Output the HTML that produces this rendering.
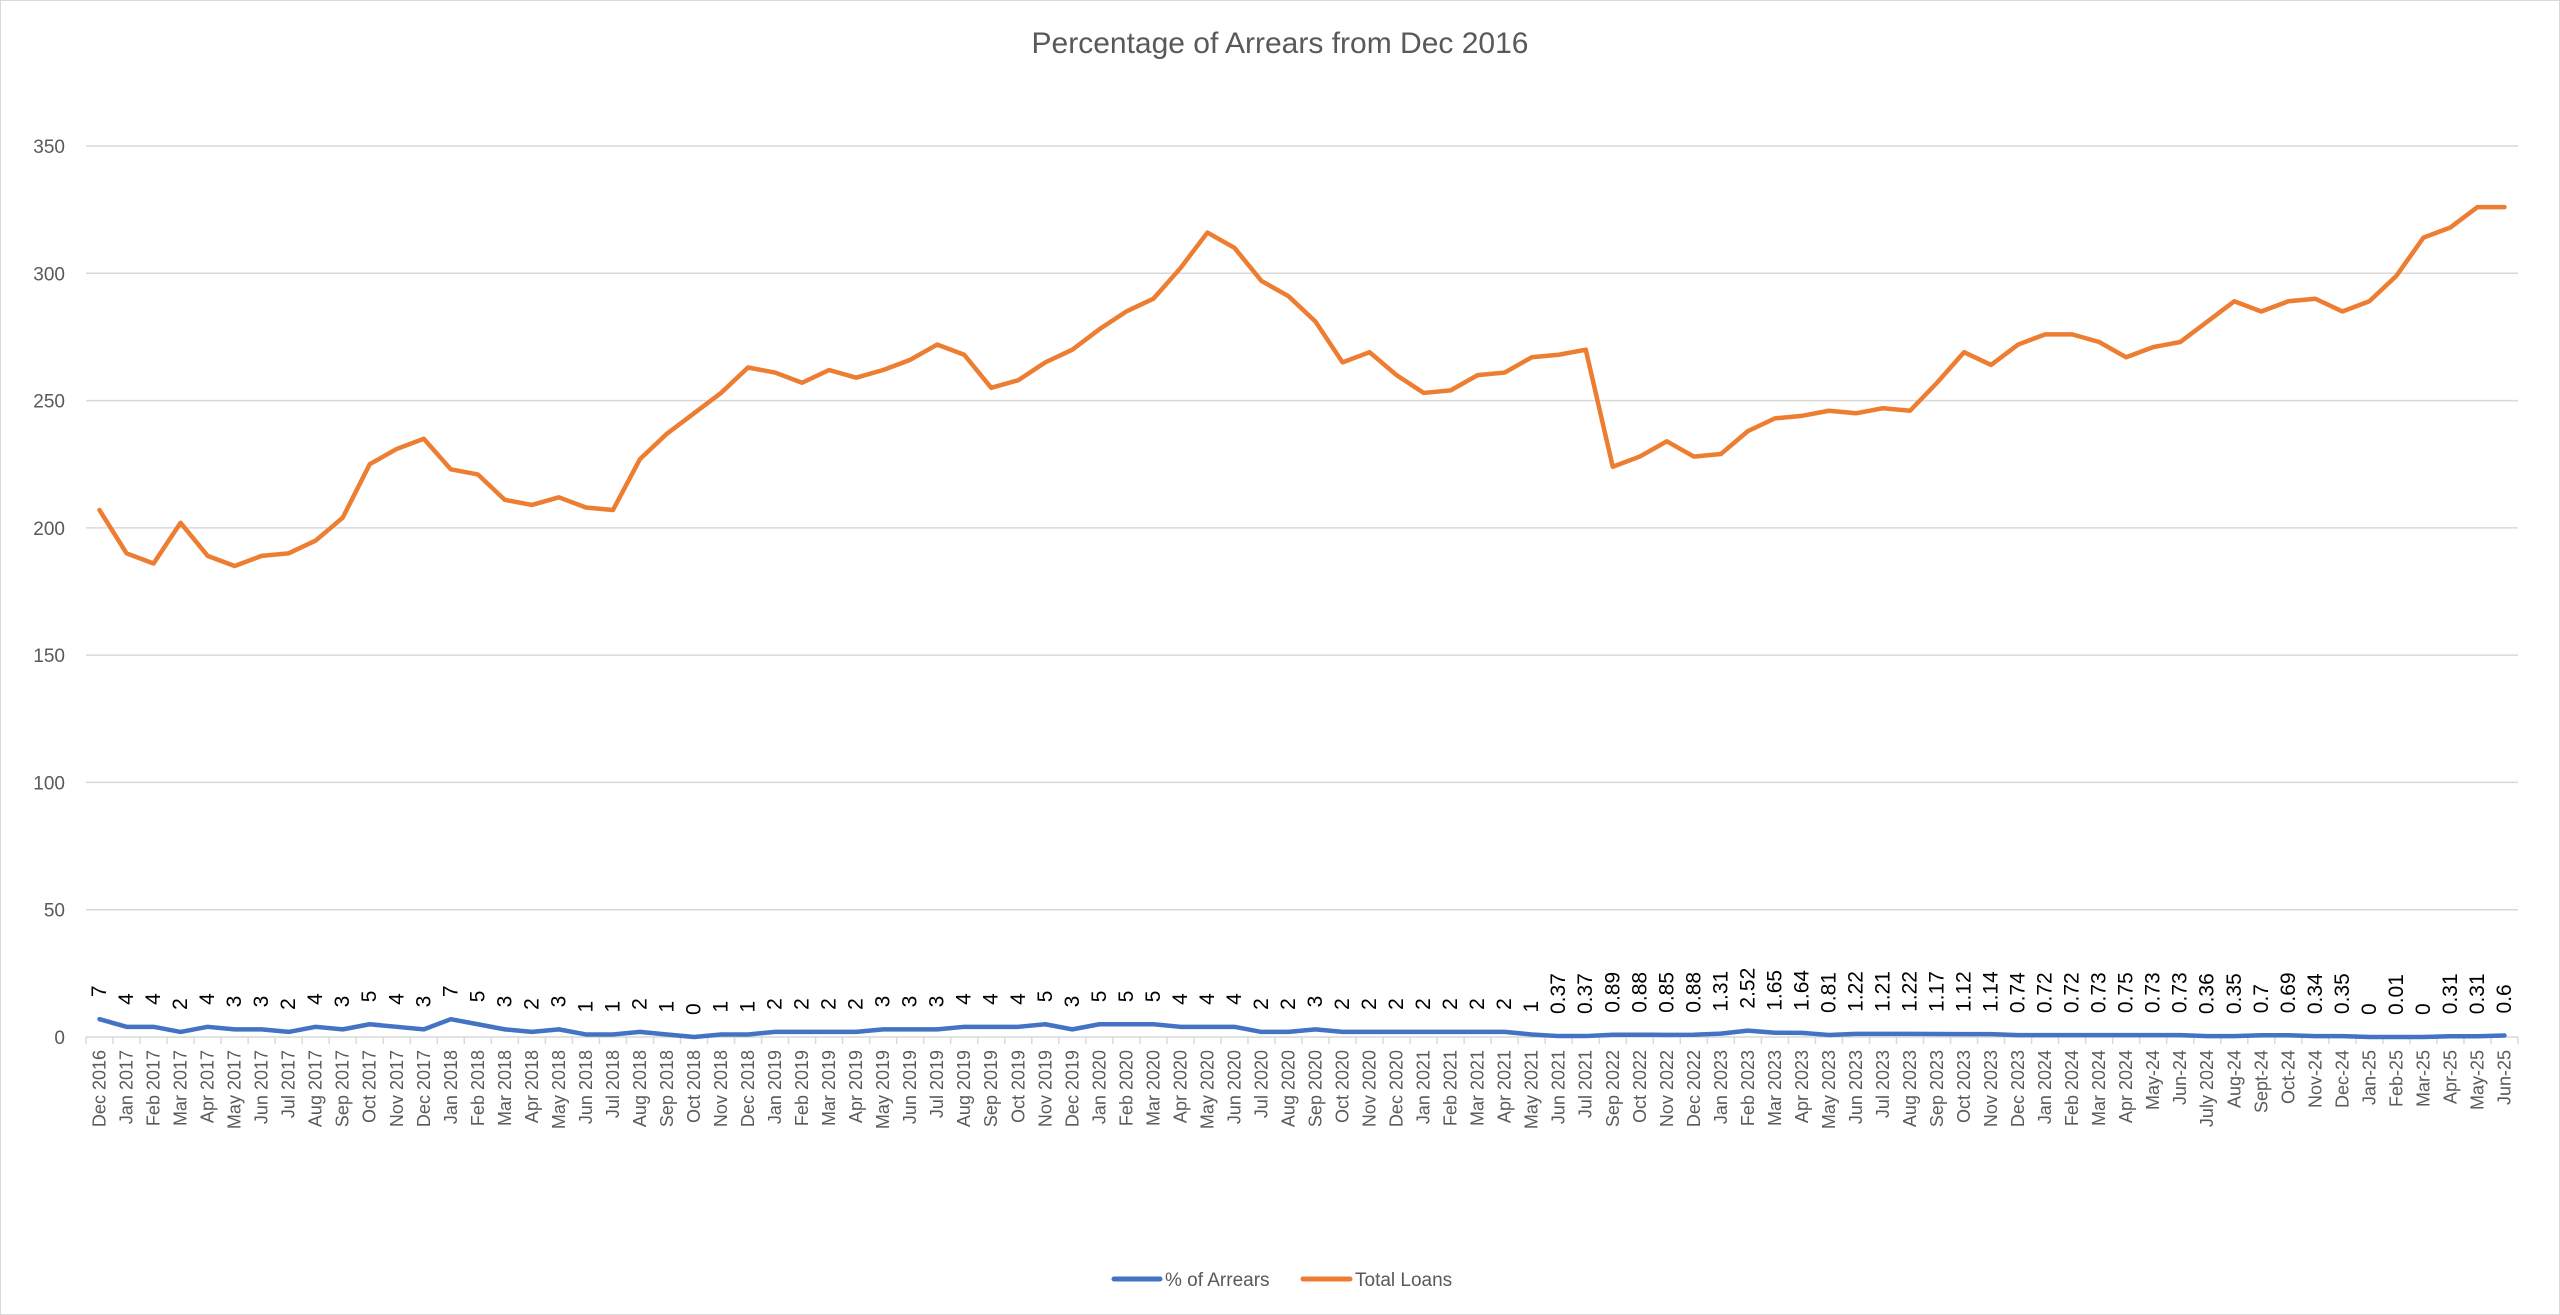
<!DOCTYPE html>
<html><head><meta charset="utf-8">
<style>
html,body{margin:0;padding:0;background:#fff;}
body{width:2560px;height:1315px;overflow:hidden;}
svg{display:block;font-family:"Liberation Sans",sans-serif;}
</style></head>
<body>
<svg id="chart" width="2560" height="1315" viewBox="0 0 2560 1315" xmlns="http://www.w3.org/2000/svg">
<rect x="0.5" y="0.5" width="2559" height="1314" fill="#fff" stroke="#d9d9d9" stroke-width="1"/>
<text x="1280" y="53" text-anchor="middle" font-size="30" fill="#595959">Percentage of Arrears from Dec 2016</text>
<g id="grid"></g>
<g id="yticks"></g>
<g id="xaxis"></g>
<g id="series"></g>
<g id="dlabels"></g>
<g>
<g>
<line x1="1114" y1="1279" x2="1160" y2="1279" stroke="#4472C4" stroke-width="5" stroke-linecap="round"/>
<text x="1165" y="1286" font-size="19" fill="#595959">% of Arrears</text>
</g>
<g>
<line x1="1303" y1="1279" x2="1350" y2="1279" stroke="#ED7D31" stroke-width="5" stroke-linecap="round"/>
<text x="1355" y="1286" font-size="19" fill="#595959">Total Loans</text>
</g>
</g>
</svg>
<script>
const categories = ["Dec 2016","Jan 2017","Feb 2017","Mar 2017","Apr 2017","May 2017","Jun 2017","Jul 2017","Aug 2017","Sep 2017","Oct 2017","Nov 2017","Dec 2017",
"Jan 2018","Feb 2018","Mar 2018","Apr 2018","May 2018","Jun 2018","Jul 2018","Aug 2018","Sep 2018","Oct 2018","Nov 2018","Dec 2018",
"Jan 2019","Feb 2019","Mar 2019","Apr 2019","May 2019","Jun 2019","Jul 2019","Aug 2019","Sep 2019","Oct 2019","Nov 2019","Dec 2019",
"Jan 2020","Feb 2020","Mar 2020","Apr 2020","May 2020","Jun 2020","Jul 2020","Aug 2020","Sep 2020","Oct 2020","Nov 2020","Dec 2020",
"Jan 2021","Feb 2021","Mar 2021","Apr 2021","May 2021","Jun 2021","Jul 2021",
"Sep 2022","Oct 2022","Nov 2022","Dec 2022",
"Jan 2023","Feb 2023","Mar 2023","Apr 2023","May 2023","Jun 2023","Jul 2023","Aug 2023","Sep 2023","Oct 2023","Nov 2023","Dec 2023",
"Jan 2024","Feb 2024","Mar 2024","Apr 2024","May-24","Jun-24","July 2024","Aug-24","Sept-24","Oct-24","Nov-24","Dec-24",
"Jan-25","Feb-25","Mar-25","Apr-25","May-25","Jun-25"];
const arrearsValues = [7,4,4,2,4,3,3,2,4,3,5,4,3,
7,5,3,2,3,1,1,2,1,0,1,1,
2,2,2,2,3,3,3,4,4,4,5,3,
5,5,5,4,4,4,2,2,3,2,2,2,
2,2,2,2,1,0.37,0.37,
0.89,0.88,0.85,0.88,
1.31,2.52,1.65,1.64,0.81,1.22,1.21,1.22,1.17,1.12,1.14,0.74,
0.72,0.72,0.73,0.75,0.73,0.73,0.36,0.35,0.7,0.69,0.34,0.35,
0,0.01,0,0.31,0.31,0.6];
const totalLoansValues = [207,190,186,202,189,185,189,190,195,204,225,231,235,
223,221,211,209,212,208,207,227,237,245,253,263,
261,257,262,259,262,266,272,268,255,258,265,270,
278,285,290,302,316,310,297,291,281,265,269,260,
253,254,260,261,267,268,270,
224,228,234,228,
229,238,243,244,246,245,247,246,257,269,264,272,
276,276,273,267,271,273,281,289,285,289,290,285,
289,299,314,318,326,326];
const yTicks = [0,50,100,150,200,250,300,350];

const NS = "http://www.w3.org/2000/svg";
const L = 86, R = 2518, Y0 = 1037, YMAX_PX = 146, YMAX = 350;
const step = (R - L) / categories.length;
function xScale(i){ return L + step * (i + 0.5); }
function yScale(v){ return Y0 - (v / YMAX) * (Y0 - YMAX_PX); }
function mk(tag, attrs, parent){
  const e = document.createElementNS(NS, tag);
  for (const k in attrs) e.setAttribute(k, attrs[k]);
  parent.appendChild(e);
  return e;
}
const grid = document.getElementById('grid');
const yt = document.getElementById('yticks');
yTicks.forEach(v => {
  const ln = mk('line', {x1:L, x2:R, y1:yScale(v), y2:yScale(v), stroke:'#d9d9d9', 'stroke-width':1.5}, grid);
  
  
  const t = mk('text', {x:65, y:yScale(v) + 7, 'text-anchor':'end', 'font-size':19, fill:'#595959'}, yt);
  t.textContent = v;
  
  
});
const xa = document.getElementById('xaxis');
for (let i = 0; i <= categories.length; i++){
  const x = L + step * i;
  const tk = mk('line', {x1:x, x2:x, y1:Y0, y2:Y0 + 7, stroke:'#d9d9d9', 'stroke-width':1.5}, xa);
  
  
}
categories.forEach((c, i) => {
  const x = xScale(i);
  const t = mk('text', {transform:'translate(' + x + ',' + (Y0 + 13) + ') rotate(-90)', 'text-anchor':'end', 'dominant-baseline':'central', 'font-size':18, fill:'#595959'}, xa);
  t.textContent = c;
  
  
});
const ser = document.getElementById('series');
function pathFor(vals){ return vals.map((v, i) => (i ? 'L' : 'M') + xScale(i).toFixed(2) + ' ' + yScale(v).toFixed(2)).join(' '); }
const po = mk('path', {d:pathFor(totalLoansValues), fill:'none', stroke:'#ED7D31', 'stroke-width':4.5, 'stroke-linejoin':'round', 'stroke-linecap':'round'}, ser);


const pb = mk('path', {d:pathFor(arrearsValues), fill:'none', stroke:'#4472C4', 'stroke-width':4.5, 'stroke-linejoin':'round', 'stroke-linecap':'round'}, ser);


const dl = document.getElementById('dlabels');
arrearsValues.forEach((v, i) => {
  const x = xScale(i), y = yScale(v) - 22;
  const t = mk('text', {transform:'translate(' + x + ',' + y + ') rotate(-90)', 'text-anchor':'start', 'dominant-baseline':'central', 'font-size':21, fill:'#000'}, dl);
  t.textContent = String(v);
  
  
});
</script>
</body></html>
